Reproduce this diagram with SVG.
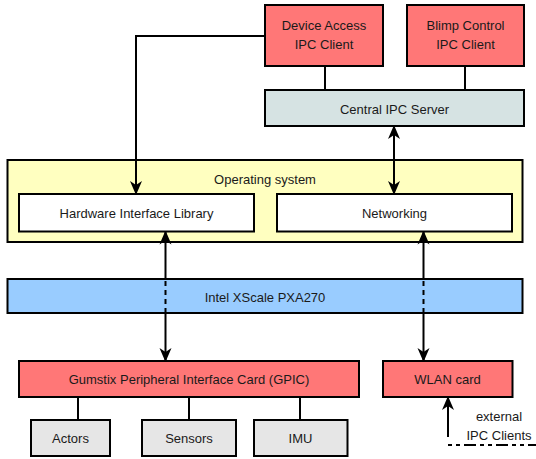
<svg xmlns="http://www.w3.org/2000/svg" width="536" height="459" viewBox="0 0 536 459">
<style>
rect{stroke:#000;stroke-width:2}
.red{fill:#FF7777}
.srv{fill:#D6E3E3}
.yel{fill:#FFFFC0}
.wht{fill:#FFFFFF}
.blu{fill:#99CCFF}
.gry{fill:#E6E6E6}
text{font-family:"Liberation Sans",Arial,sans-serif;font-size:13px;fill:#1a1a1a;text-anchor:middle;dominant-baseline:central}
.ln{fill:none;stroke:#000;stroke-width:2}
.dash{fill:none;stroke:#000;stroke-width:2;stroke-dasharray:5 4}
</style>
<defs>
<marker id="ah" markerUnits="userSpaceOnUse" markerWidth="14" markerHeight="14" viewBox="0 0 14 14" refX="13" refY="7" orient="auto-start-reverse">
<path d="M0,1 L14,7 L0,13 L4,7 z" fill="#000"/>
</marker>
</defs>
<g id="dev-access"><rect class="red" x="265" y="5" width="118" height="61"/><text x="324" y="25">Device Access</text><text x="324" y="44">IPC Client</text></g>
<g id="blimp"><rect class="red" x="407" y="5" width="117" height="61"/><text x="465.5" y="25">Blimp Control</text><text x="465.5" y="44">IPC Client</text></g>
<g id="server"><rect class="srv" x="265" y="90" width="259" height="36"/><text x="394.5" y="109">Central IPC Server</text></g>
<g id="os"><rect class="yel" x="7.5" y="160" width="515" height="82"/><text x="265" y="179">Operating system</text></g>
<g id="hil"><rect class="wht" x="19" y="194" width="235" height="37.5"/><text x="136.5" y="213.5">Hardware Interface Library</text></g>
<g id="net"><rect class="wht" x="277" y="194" width="235" height="37.5"/><text x="394.5" y="213.5">Networking</text></g>
<g id="cpu"><rect class="blu" x="7.5" y="279" width="515" height="34"/><text x="265" y="297">Intel XScale PXA270</text></g>
<g id="gpic"><rect class="red" x="19" y="361" width="340" height="36"/><text x="189" y="379.5">Gumstix Peripheral Interface Card (GPIC)</text></g>
<g id="wlan"><rect class="red" x="383" y="361" width="129.5" height="36"/><text x="447.5" y="379.5">WLAN card</text></g>
<g id="actors"><rect class="gry" x="31" y="420" width="79" height="36"/><text x="70.5" y="438.5">Actors</text></g>
<g id="sensors"><rect class="gry" x="142" y="420" width="94" height="36"/><text x="189" y="438.5">Sensors</text></g>
<g id="imu"><rect class="gry" x="254" y="420" width="93.5" height="36"/><text x="300.5" y="438.5">IMU</text></g>
<g id="external"><text x="499" y="416">external</text><text x="499" y="435">IPC Clients</text></g>
<g id="connectors">
<path class="ln" d="M325,66 V90"/>
<path class="ln" d="M465,66 V90"/>
<path class="ln" d="M265,36 H136 V194" marker-end="url(#ah)"/>
<path class="ln" d="M394,126 V194" marker-start="url(#ah)" marker-end="url(#ah)"/>
<path class="ln" d="M165.5,231.5 V279" marker-start="url(#ah)"/>
<path class="dash" d="M165.5,281 V313"/>
<path class="ln" d="M165.5,313 V361" marker-end="url(#ah)"/>
<path class="ln" d="M423.5,231.5 V279" marker-start="url(#ah)"/>
<path class="dash" d="M423.5,281 V313"/>
<path class="ln" d="M423.5,313 V361" marker-end="url(#ah)"/>
<path class="ln" d="M78,397 V420"/>
<path class="ln" d="M189,397 V420"/>
<path class="ln" d="M300,397 V420"/>
<path class="ln" d="M448,397 V437" marker-start="url(#ah)"/>
<path class="ln" d="M448,445 H536" style="stroke-dasharray:4 4 4 4 12 4"/>
</g>
</svg>
